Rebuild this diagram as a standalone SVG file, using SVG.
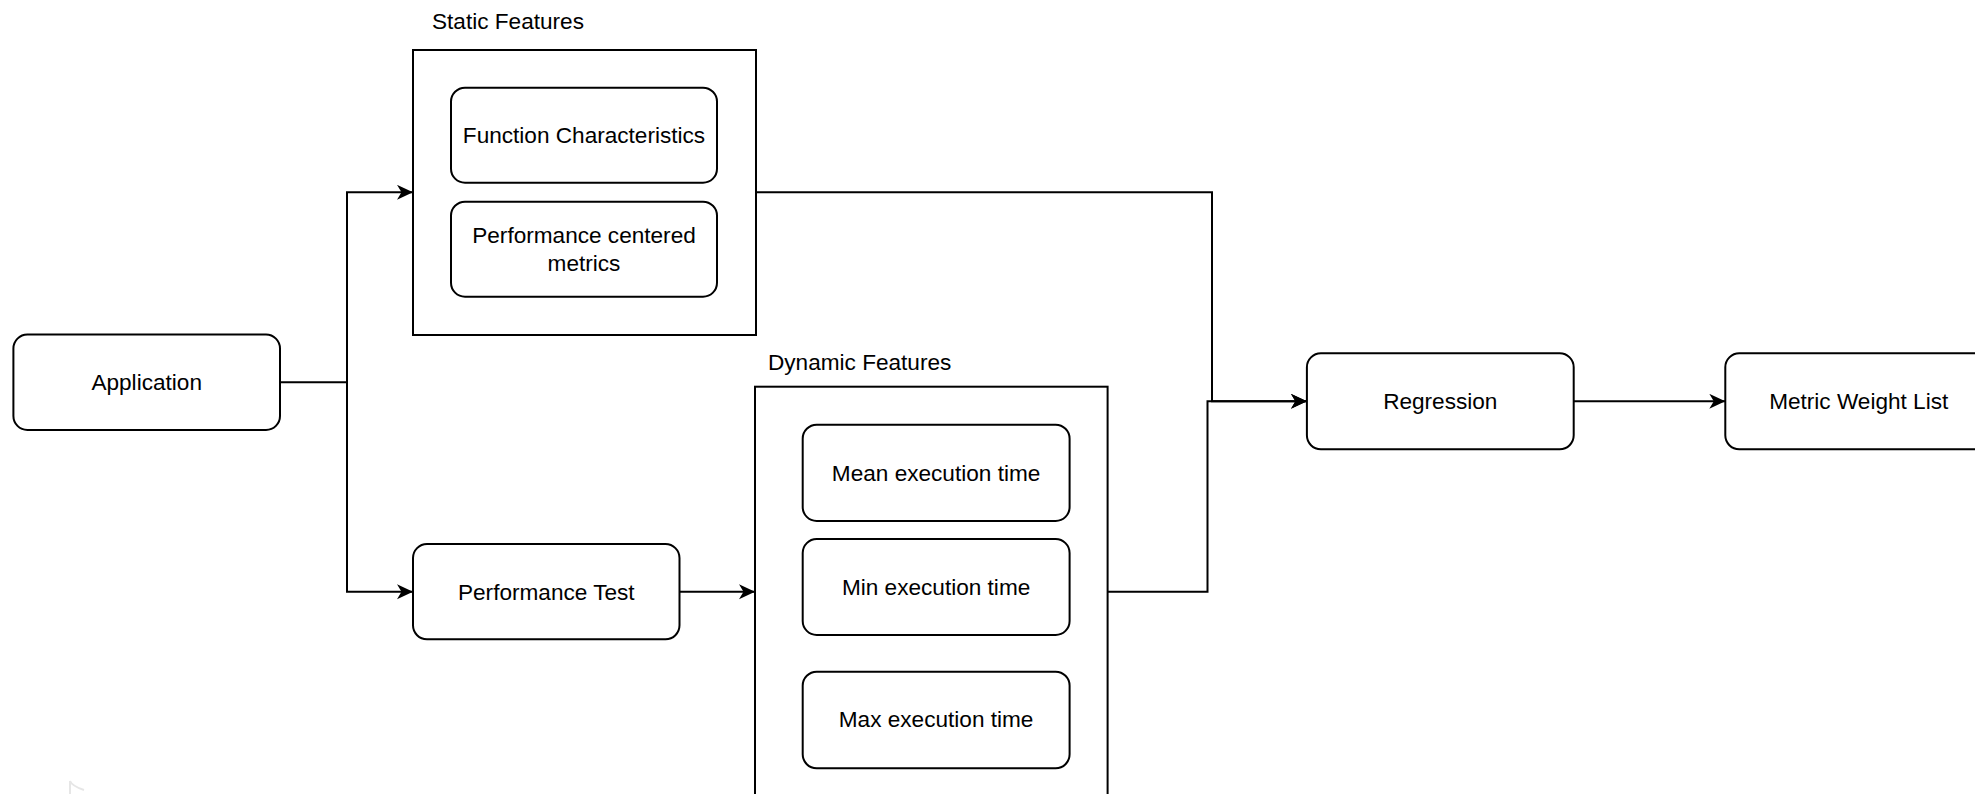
<svg xmlns="http://www.w3.org/2000/svg" width="1975" height="794" viewBox="0 0 1975 794">
<style>
  .box{fill:#fff;stroke:#000;stroke-width:2}
  .rbox{fill:#fff;stroke:#000;stroke-width:2}
  .lbl{font-family:"Liberation Sans",Arial,Helvetica,sans-serif;font-size:22.6px;fill:#000;text-anchor:middle}
  .ttl{font-family:"Liberation Sans",Arial,Helvetica,sans-serif;font-size:22.6px;fill:#000;text-anchor:start}
  .conn{fill:none;stroke:#000;stroke-width:2}
</style>
<defs>
  <marker id="arr" markerUnits="userSpaceOnUse" markerWidth="18" markerHeight="16" refX="16" refY="7.5" orient="auto">
    <path d="M0,0 L16,7.5 L0,15 L4.5,7.5 z" fill="#000"/>
  </marker>
</defs>
<rect width="1975" height="794" fill="#fff"/>

<g id="static-features">
  <text class="ttl" x="432" y="28.5">Static Features</text>
  <rect class="box" x="413" y="50" width="343" height="285"/>
</g>
<g id="function-characteristics">
  <rect class="rbox" x="451" y="87.7" width="266" height="95" rx="14"/>
  <text class="lbl" x="584" y="143">Function Characteristics</text>
</g>
<g id="performance-centered-metrics">
  <rect class="rbox" x="451" y="201.7" width="266" height="95" rx="14"/>
  <text class="lbl" x="584" y="243">Performance centered</text>
  <text class="lbl" x="584" y="271.3">metrics</text>
</g>

<g id="application">
  <rect class="rbox" x="13.4" y="334.5" width="266.6" height="95.5" rx="14"/>
  <text class="lbl" x="146.7" y="390.3">Application</text>
</g>

<g id="performance-test">
  <rect class="rbox" x="413" y="544" width="266.5" height="95.3" rx="14"/>
  <text class="lbl" x="546.3" y="599.7">Performance Test</text>
</g>

<g id="dynamic-features">
  <text class="ttl" x="768" y="370.3">Dynamic Features</text>
  <rect class="box" x="755" y="386.7" width="352.6" height="420"/>
</g>
<g id="mean-execution-time">
  <rect class="rbox" x="802.7" y="424.7" width="266.9" height="96.3" rx="14"/>
  <text class="lbl" x="936.1" y="480.7">Mean execution time</text>
</g>
<g id="min-execution-time">
  <rect class="rbox" x="802.7" y="539" width="266.9" height="96" rx="14"/>
  <text class="lbl" x="936.1" y="594.7">Min execution time</text>
</g>
<g id="max-execution-time">
  <rect class="rbox" x="802.7" y="671.7" width="266.9" height="96.6" rx="14"/>
  <text class="lbl" x="936.1" y="727.3">Max execution time</text>
</g>

<g id="regression">
  <rect class="rbox" x="1306.9" y="353.3" width="266.8" height="96" rx="14"/>
  <text class="lbl" x="1440.3" y="409.3">Regression</text>
</g>

<g id="metric-weight-list">
  <rect class="rbox" x="1725.3" y="353.3" width="266.8" height="96" rx="14"/>
  <text class="lbl" x="1858.7" y="409.3">Metric Weight List</text>
</g>

<g id="connectors">
  <path class="conn" d="M280,382.3 H347 V192.3 H413" marker-end="url(#arr)"/>
  <path class="conn" d="M347,382.3 V591.7 H413" marker-end="url(#arr)"/>
  <path class="conn" d="M679.5,591.7 H755" marker-end="url(#arr)"/>
  <path class="conn" d="M756,192.3 H1212 V401.3 H1306.9" marker-end="url(#arr)"/>
  <path class="conn" d="M1107.6,591.7 H1207.5 V401.3 H1306.9" marker-end="url(#arr)"/>
  <path class="conn" d="M1573.7,401.3 H1725.3" marker-end="url(#arr)"/>
</g>

<path d="M70,794 V781 Q72,786 84,790" fill="none" stroke="#e6e6e6" stroke-width="2"/>
</svg>
